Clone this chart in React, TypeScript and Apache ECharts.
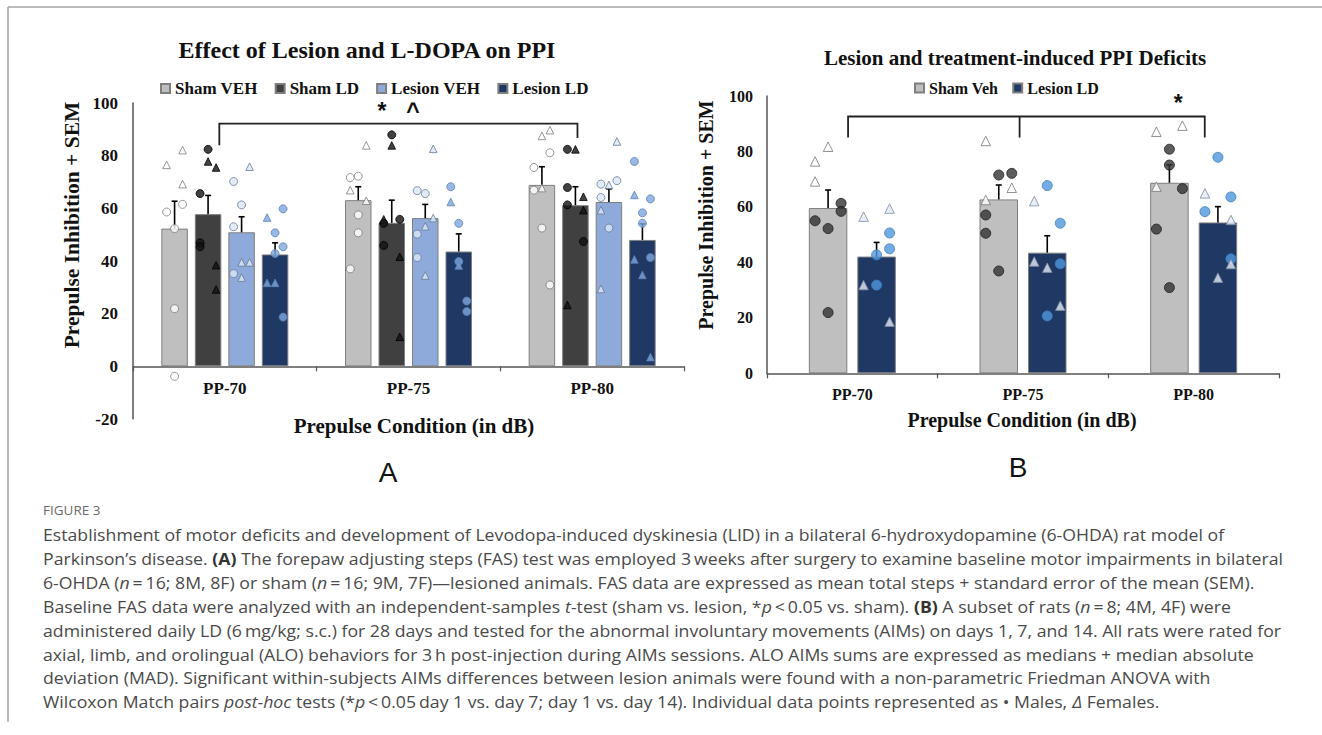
import React, { useEffect, useRef } from "react";
import * as echarts from "echarts";

// ---------------- data ----------------
const categories = ["PP-70", "PP-75", "PP-80"];

const groupsA = ["Sham VEH", "Sham LD", "Lesion VEH", "Lesion LD"];
const meanA_shamVeh = [52.3, 63.1, 68.9];
const meanA_shamLd = [57.8, 54.5, 61.2];
const meanA_lesionVeh = [50.9, 56.3, 62.4];
const meanA_lesionLd = [42.5, 43.6, 48.0];
const semA_shamVeh = [10.4, 5.1, 6.9];
const semA_shamLd = [7.1, 8.6, 7.0];
const semA_lesionVeh = [5.9, 5.2, 5.0];
const semA_lesionLd = [4.4, 6.7, 6.1];

const groupsB = ["Sham Veh", "Lesion LD"];
const meanB_shamVeh = [59.6, 62.7, 68.7];
const meanB_lesionLd = [42.1, 43.5, 54.4];
const semB_shamVeh = [6.5, 5.2, 6.5];
const semB_lesionLd = [5.1, 6.1, 5.7];

// individual animals: [value, column (-1 left, 0 middle, 1 right), sex]
type Pt = [number, number, string];
const ptsA_shamVeh: Pt[][] = [
  [[76.5, -1, "F"], [82.1, 1, "F"], [69.2, 1, "F"], [58.6, -1, "M"], [61.5, 1, "M"], [52.3, 0, "M"], [21.9, 0, "M"], [-3.8, 0, "M"]],
  [[83.9, 1, "F"], [71.7, -1, "M"], [72.2, 0, "M"], [66.9, -1, "F"], [62.9, 1, "F"], [57.5, 0, "M"], [50.7, 0, "M"], [37.0, -1, "M"]],
  [[87.5, 0, "F"], [89.7, 1, "F"], [81.1, 1, "M"], [75.5, -1, "M"], [66.9, -1, "M"], [67.7, 0, "F"], [52.5, 0, "M"], [30.9, 1, "M"]],
];
const ptsA_shamLd: Pt[][] = [
  [[82.4, 0, "M"], [77.8, 0, "F"], [75.5, 1, "F"], [65.6, -1, "M"], [46.9, -1, "M"], [45.4, -1, "M"], [38.4, 1, "F"], [29.2, 1, "F"]],
  [[87.9, 0, "M"], [83.9, 0, "F"], [55.8, -1, "F"], [55.8, 1, "M"], [54.3, -1, "M"], [45.9, -1, "M"], [41.6, 1, "F"], [11.2, 1, "F"]],
  [[82.4, -1, "M"], [82.4, 0, "F"], [67.9, -1, "M"], [61.3, -1, "M"], [64.4, 1, "F"], [59.3, 1, "F"], [47.4, 1, "M"], [23.3, -1, "F"]],
];
const ptsA_lesionVeh: Pt[][] = [
  [[75.8, 1, "F"], [70.2, -1, "M"], [61.3, 0, "M"], [53.0, -1, "M"], [39.5, 0, "F"], [39.5, 1, "F"], [35.2, -1, "M"], [33.7, 0, "F"]],
  [[82.6, 1, "F"], [66.7, -1, "M"], [65.6, 0, "M"], [56.3, 1, "F"], [53.2, 0, "F"], [50.2, -1, "M"], [41.3, -1, "M"], [34.5, 0, "F"]],
  [[85.4, 1, "F"], [69.2, -1, "M"], [70.5, 1, "M"], [68.9, 0, "F"], [64.1, -1, "M"], [59.3, -1, "F"], [52.5, 0, "M"], [29.4, -1, "F"]],
];
const ptsA_lesionLd: Pt[][] = [
  [[56.5, -1, "F"], [59.8, 1, "M"], [50.7, 0, "M"], [45.4, 1, "M"], [42.8, 0, "M"], [31.7, -1, "F"], [31.7, 0, "F"], [18.7, 1, "M"]],
  [[68.2, -1, "M"], [62.4, -1, "F"], [54.3, 0, "M"], [39.8, 0, "M"], [38.3, 0, "F"], [24.8, 1, "M"], [20.8, 1, "M"]],
  [[77.8, -1, "M"], [65.1, -1, "F"], [63.6, 1, "M"], [58.3, 0, "M"], [54.3, 0, "M"], [40.6, -1, "F"], [41.3, 1, "M"], [34.7, 0, "F"], [3.5, 1, "F"]],
];
const ptsB_shamVeh: Pt[][] = [
  [[76.4, -1, "F"], [81.7, 0, "F"], [69.2, -1, "F"], [61.3, 1, "M"], [58.4, 1, "M"], [55.0, -1, "M"], [52.2, 0, "M"], [21.9, 0, "M"]],
  [[83.8, -1, "F"], [71.5, 0, "M"], [72.1, 1, "M"], [66.9, 1, "F"], [62.5, -1, "F"], [57.1, -1, "M"], [50.5, -1, "M"], [36.9, 0, "M"]],
  [[87.1, -1, "F"], [89.3, 1, "F"], [80.8, 0, "M"], [75.1, 0, "M"], [66.6, 1, "M"], [67.3, -1, "F"], [52.0, -1, "M"], [30.9, 0, "M"]],
];
const ptsB_lesionLd: Pt[][] = [
  [[56.5, -1, "F"], [59.4, 1, "F"], [50.6, 1, "M"], [44.9, 1, "M"], [42.7, 0, "M"], [31.8, -1, "F"], [31.8, 0, "M"], [18.6, 1, "F"]],
  [[67.7, 0, "M"], [62.1, -1, "F"], [54.1, 1, "M"], [40.3, -1, "F"], [38.1, 0, "F"], [39.5, 1, "M"], [24.4, 1, "F"], [20.7, 0, "M"]],
  [[77.9, 0, "M"], [64.9, -1, "F"], [63.6, 1, "M"], [58.3, -1, "M"], [55.3, 1, "F"], [41.3, 1, "M"], [39.4, 1, "F"], [34.5, 0, "F"]],
];

// significance brackets in data coordinates (x: category units 0..3, y: PPI)
const bracketA: number[][] = [[0.47, 84], [0.47, 92.2], [2.42, 92.2], [2.42, 86.7]];
const bracketAMid: number[][] = [];
const starsA: [number, number, string][] = [[1.355, 97.0, "*"], [1.525, 97.0, "^"]];
const bracketB: number[][] = [[0.475, 85], [0.475, 92.6], [2.565, 92.6], [2.565, 85]];
const bracketBMid: number[][] = [[1.48, 92.6], [1.48, 85]];
const starsB: [number, number, string][] = [[2.41, 97.3, "*"]];

const yRangeA = [-20, 100];
const yRangeB = [0, 100];

// ---------------- styles ----------------
const SERIF = "'Liberation Serif', 'Times New Roman', serif";
const SANS = "'Open Sans', 'Noto Sans', sans-serif";

const barColorsA = ["#bfbfbf", "#404040", "#8eaadb", "#1f3864"];
const barColorsB = ["#bfbfbf", "#1f3864"];
const ptStylesA = [
  { M: { color: "#ffffff", borderColor: "#7a7a7a" }, F: { color: "#ffffff", borderColor: "#7a7a7a" } },
  { M: { color: "#111111", borderColor: "#000000" }, F: { color: "#111111", borderColor: "#000000" } },
  { M: { color: "#dbe7f7", borderColor: "#687a95" }, F: { color: "#dbe7f7", borderColor: "#687a95" } },
  { M: { color: "#7ea7de", borderColor: "#5c80b5" }, F: { color: "#7ea7de", borderColor: "#5c80b5" } },
];
const ptStylesB = [
  { M: { color: "#333333", borderColor: "#1e1e1e" }, F: { color: "#ffffff", borderColor: "#777777" } },
  { M: { color: "#4f97dc", borderColor: "#3d7fc2" }, F: { color: "#e3ebf7", borderColor: "#7d8aa0" } },
];

const GRID_A = { left: 133, top: 103, width: 551, height: 316 };
const GRID_B = { left: 767, top: 96, width: 512, height: 277.3 };
const BAR_W_A = 26.5;
const GAP_A = 7;
const BAR_W_B = 38.5;
const GAP_B = 10;

function barOffset(i: number, n: number, w: number, gap: number) {
  return -(n * w + (n - 1) * gap) / 2 + i * (w + gap) + w / 2;
}

function errSeries(mean: number[], sem: number[], xi: number, yi: number, off: number) {
  return {
    type: "custom",
    xAxisIndex: xi,
    yAxisIndex: yi,
    z: 3,
    silent: true,
    data: mean.map((m, i) => [i, m, m + sem[i]]),
    encode: { x: 0, y: [1, 2] },
    renderItem: (_p: any, api: any) => {
      const cat = api.value(0);
      const a = api.coord([cat, api.value(1)]);
      const b = api.coord([cat, api.value(2)]);
      const x = a[0] + off;
      return {
        type: "group",
        children: [
          { type: "line", shape: { x1: x, y1: a[1], x2: x, y2: b[1] }, style: { stroke: "#000", lineWidth: 1.6 } },
          { type: "line", shape: { x1: x - 3, y1: b[1], x2: x + 3, y2: b[1] }, style: { stroke: "#000", lineWidth: 1.6 } },
        ],
      };
    },
  };
}

function ptSeries(pts: Pt[][], styles: any, xi: number, yi: number, off: number, jitter: number, size: number) {
  const data: any[] = [];
  pts.forEach((list, ci) => {
    list.forEach(([v, col, sex]) => {
      data.push({
        value: [ci, v],
        symbol: sex === "M" ? "circle" : "triangle",
        symbolSize: sex === "M" ? size : size * 0.95,
        symbolOffset: [off + col * jitter, 0],
        itemStyle: { ...styles[sex], borderWidth: 1 },
      });
    });
  });
  return {
    type: "scatter",
    xAxisIndex: xi,
    yAxisIndex: yi,
    z: 4,
    silent: true,
    data,
  };
}

function bracketSeries(path: number[][], mid: number[][], stars: [number, number, string][], xi: number, yi: number, starSize: number) {
  return {
    type: "custom",
    xAxisIndex: xi,
    yAxisIndex: yi,
    z: 5,
    silent: true,
    clip: false,
    data: [[1.5, 90]],
    renderItem: (_p: any, api: any) => {
      const children: any[] = [
        {
          type: "polyline",
          shape: { points: path.map((p) => api.coord(p)) },
          style: { stroke: "#222", lineWidth: 1.8, fill: null },
        },
      ];
      if (mid.length) {
        children.push({
          type: "polyline",
          shape: { points: mid.map((p) => api.coord(p)) },
          style: { stroke: "#222", lineWidth: 1.8, fill: null },
        });
      }
      stars.forEach(([sx, sy, t]) => {
        const c = api.coord([sx, sy]);
        children.push({
          type: "text",
          x: c[0],
          y: c[1],
          style: {
            text: t,
            fill: "#111",
            fontSize: starSize,
            fontWeight: "bold",
            fontFamily: "'Liberation Sans', Arial, sans-serif",
            textAlign: "center",
            textVerticalAlign: "middle",
          },
        });
      });
      return { type: "group", children };
    },
  };
}

const captionLines = [
  "Establishment of motor deficits and development of Levodopa-induced dyskinesia (LID) in a bilateral 6-hydroxydopamine (6-OHDA) rat model of",
  "Parkinson’s disease. {b|(A)} The forepaw adjusting steps (FAS) test was employed 3\u2009weeks after surgery to examine baseline motor impairments in bilateral",
  "6-OHDA ({i|n}\u2009=\u200916; 8M, 8F) or sham ({i|n}\u2009=\u200916; 9M, 7F)—lesioned animals. FAS data are expressed as mean total steps + standard error of the mean (SEM).",
  "Baseline FAS data were analyzed with an independent-samples {i|t}-test (sham vs. lesion, *{i|p}\u2009<\u20090.05 vs. sham). {b|(B)} A subset of rats ({i|n}\u2009=\u20098; 4M, 4F) were",
  "administered daily LD (6\u2009mg/kg; s.c.) for 28 days and tested for the abnormal involuntary movements (AIMs) on days 1, 7, and 14. All rats were rated for",
  "axial, limb, and orolingual (ALO) behaviors for 3\u2009h post-injection during AIMs sessions. ALO AIMs sums are expressed as medians + median absolute",
  "deviation (MAD). Significant within-subjects AIMs differences between lesion animals were found with a non-parametric Friedman ANOVA with",
  "Wilcoxon Match pairs {i|post-hoc} tests (*{i|p}\u2009<\u20090.05\u2009day 1 vs. day 7; day 1 vs. day 14). Individual data points represented as • Males, {i|Δ} Females.",
];

function buildOption() {
  const meansA = [meanA_shamVeh, meanA_shamLd, meanA_lesionVeh, meanA_lesionLd];
  const semsA = [semA_shamVeh, semA_shamLd, semA_lesionVeh, semA_lesionLd];
  const ptsA = [ptsA_shamVeh, ptsA_shamLd, ptsA_lesionVeh, ptsA_lesionLd];
  const meansB = [meanB_shamVeh, meanB_lesionLd];
  const semsB = [semB_shamVeh, semB_lesionLd];
  const ptsB = [ptsB_shamVeh, ptsB_lesionLd];

  const series: any[] = [];
  groupsA.forEach((g, i) => {
    series.push({
      name: g,
      type: "bar",
      xAxisIndex: 0,
      yAxisIndex: 0,
      barWidth: BAR_W_A,
      barGap: `${(GAP_A / BAR_W_A) * 100}%`,
      itemStyle: { color: barColorsA[i], borderColor: "#7f7f7f", borderWidth: 1 },
      silent: true,
      data: meansA[i],
    });
  });
  groupsB.forEach((g, i) => {
    series.push({
      name: g,
      type: "bar",
      xAxisIndex: 2,
      yAxisIndex: 1,
      barWidth: BAR_W_B,
      barGap: `${(GAP_B / BAR_W_B) * 100}%`,
      itemStyle: { color: barColorsB[i], borderColor: "#7f7f7f", borderWidth: 1 },
      silent: true,
      data: meansB[i],
    });
  });
  groupsA.forEach((_g, i) => {
    const off = barOffset(i, 4, BAR_W_A, GAP_A);
    series.push(errSeries(meansA[i], semsA[i], 0, 0, off));
    series.push(ptSeries(ptsA[i], ptStylesA[i], 0, 0, off, 8, 8));
  });
  groupsB.forEach((_g, i) => {
    const off = barOffset(i, 2, BAR_W_B, GAP_B);
    series.push(errSeries(meansB[i], semsB[i], 2, 1, off));
    series.push(ptSeries(ptsB[i], ptStylesB[i], 2, 1, off, 13, 10));
  });
  series.push(bracketSeries(bracketA, bracketAMid, starsA, 1, 0, 23));
  series.push(bracketSeries(bracketB, bracketBMid, starsB, 3, 1, 23));

  // x axis sits at y = 0: shift it up from the grid bottom by the share of the range below zero
  const zeroShift = (range: number[], h: number) => -((0 - range[0]) / (range[1] - range[0])) * h;

  const lineStyle = { color: "#555", width: 1.5 };
  const catAxis = (grid: number, shift: number, size: number, margin: number) => ({
    type: "category",
    gridIndex: grid,
    data: categories,
    offset: shift,
    axisLine: { show: true, lineStyle, onZero: false },
    axisTick: { show: true, length: 5, lineStyle: { color: "#555", width: 1.2 } },
    axisLabel: { color: "#111", fontFamily: SERIF, fontWeight: "bold", fontSize: size, margin },
    splitLine: { show: false },
  });
  const hiddenX = (grid: number) => ({
    type: "value",
    gridIndex: grid,
    min: 0,
    max: 3,
    show: false,
    axisLine: { onZero: false },
  });

  const legendTextA = { fontFamily: SERIF, fontWeight: "bold", fontSize: 17, color: "#111" };
  const legendTextB = { fontFamily: SERIF, fontWeight: "bold", fontSize: 16, color: "#111" };

  const titleStyle = (size: number) => ({ fontFamily: SERIF, fontWeight: "bold", fontSize: size, fill: "#111", textAlign: "center", textVerticalAlign: "middle" });

  const graphic: any[] = [
    // frame lines
    { type: "line", shape: { x1: 8, y1: 7, x2: 1322, y2: 7 }, style: { stroke: "#a6a6a6", lineWidth: 1.5 } },
    { type: "line", shape: { x1: 8, y1: 7, x2: 8, y2: 722 }, style: { stroke: "#a6a6a6", lineWidth: 1.5 } },
    // titles
    { type: "text", x: 367, y: 50, style: { text: "Effect of Lesion and L-DOPA on PPI", ...titleStyle(24) } },
    { type: "text", x: 1015, y: 58, style: { text: "Lesion and treatment-induced PPI Deficits", ...titleStyle(21) } },
    // y-axis names
    { type: "text", x: 72, y: 225, rotation: Math.PI / 2, style: { text: "Prepulse Inhibition + SEM", ...titleStyle(21.5) } },
    { type: "text", x: 706, y: 215, rotation: Math.PI / 2, style: { text: "Prepulse Inhibition + SEM", ...titleStyle(20) } },
    // x-axis names
    { type: "text", x: 414, y: 426, style: { text: "Prepulse Condition (in dB)", ...titleStyle(21) } },
    { type: "text", x: 1022, y: 420, style: { text: "Prepulse Condition (in dB)", ...titleStyle(20) } },
    // panel letters
    { type: "text", x: 388, y: 472, style: { text: "A", fontFamily: "'Liberation Sans', Arial, sans-serif", fontSize: 28, fill: "#111", textAlign: "center", textVerticalAlign: "middle" } },
    { type: "text", x: 1018, y: 467, style: { text: "B", fontFamily: "'Liberation Sans', Arial, sans-serif", fontSize: 28, fill: "#111", textAlign: "center", textVerticalAlign: "middle" } },
    // caption
    { type: "text", x: 43, y: 510, style: { text: "FIGURE 3", fontFamily: SANS, fontSize: 13.5, fill: "#6a6a6a", textAlign: "left", textVerticalAlign: "middle" } },
  ];
  captionLines.forEach((line, i) => {
    graphic.push({
      type: "text",
      x: 43,
      y: 535 + i * 23.85,
      scaleX: 1.072,
      style: {
        text: line,
        fontFamily: SANS,
        fontSize: 16.5,
        fill: "#4a4a4a",
        textAlign: "left",
        textVerticalAlign: "middle",
        rich: {
          b: { fontFamily: SANS, fontSize: 16.5, fontWeight: "bold", fill: "#333" },
          i: { fontFamily: SANS, fontSize: 16.5, fontStyle: "italic", fill: "#4a4a4a" },
        },
      },
    });
  });

  return {
    animation: false,
    backgroundColor: "#ffffff",
    legend: [
      {
        data: groupsA,
        left: 155,
        top: 75,
        itemWidth: 9,
        itemHeight: 9,
        itemGap: 17,
        icon: "rect",
        textStyle: legendTextA,
        selectedMode: false,
      },
      {
        data: groupsB,
        left: 909,
        top: 75,
        itemWidth: 9,
        itemHeight: 9,
        itemGap: 14,
        icon: "rect",
        textStyle: legendTextB,
        selectedMode: false,
      },
    ],
    grid: [GRID_A, GRID_B],
    xAxis: [
      catAxis(0, zeroShift(yRangeA, GRID_A.height), 17, 14),
      hiddenX(0),
      catAxis(1, zeroShift(yRangeB, GRID_B.height), 16, 13),
      hiddenX(1),
    ],
    yAxis: [
      {
        type: "value",
        gridIndex: 0,
        min: yRangeA[0],
        max: yRangeA[1],
        interval: 20,
        axisLine: { show: true, lineStyle, onZero: false },
        axisTick: { show: false },
        splitLine: { show: false },
        axisLabel: { color: "#111", fontFamily: SERIF, fontWeight: "bold", fontSize: 17, margin: 15 },
      },
      {
        type: "value",
        gridIndex: 1,
        min: yRangeB[0],
        max: yRangeB[1],
        interval: 20,
        axisLine: { show: true, lineStyle, onZero: false },
        axisTick: { show: false },
        splitLine: { show: false },
        axisLabel: { color: "#111", fontFamily: SERIF, fontWeight: "bold", fontSize: 16, margin: 14 },
      },
    ],
    series,
    graphic,
  };
}

export default function App() {
  const ref = useRef<HTMLDivElement>(null);
  useEffect(() => {
    if (!ref.current) return;
    const chart = echarts.init(ref.current, undefined, { renderer: "svg" });
    chart.setOption(buildOption() as any);
    return () => chart.dispose();
  }, []);
  return (
    <div
      ref={ref}
      style={{ position: "absolute", left: 0, top: 0, width: 1322, height: 735, background: "#fff" }}
    />
  );
}
